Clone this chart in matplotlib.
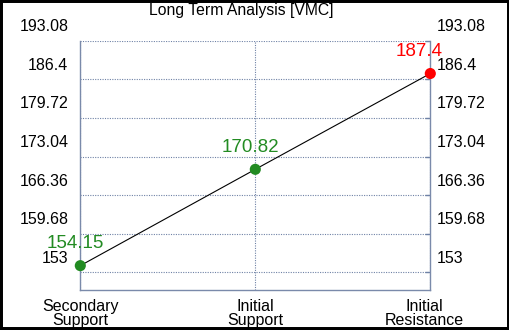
import matplotlib
matplotlib.use("Agg")
import matplotlib.pyplot as plt
from matplotlib.patches import Rectangle
from matplotlib.transforms import ScaledTranslation

plt.rcParams['font.family'] = ['Liberation Sans', 'DejaVu Sans']

# data
categories = ["Secondary\nSupport", "Initial\nSupport", "Initial\nResistance"]
levels = [154.15, 170.82, 187.4]
point_colors = ["#228b22", "#228b22", "#ff0000"]
ytick_values = [153, 159.68, 166.36, 173.04, 179.72, 186.4, 193.08]
title = "Long Term Analysis [VMC]"

fig = plt.figure(figsize=(5.1, 3.3), dpi=100)
ax = fig.add_axes([80.3 / 510, 39.7 / 330, 350 / 510, 249.6 / 330])

x = list(range(len(categories)))
ax.plot(x, levels, color="black", linewidth=0.8, zorder=3, clip_on=False)
ax.scatter(x, levels, s=64, c=point_colors, zorder=4, linewidths=0, clip_on=False)

# value labels above the points (offsets in pixels)
label_dx = [-5, -5, -11]
for xi, v, c, dx in zip(x, levels, point_colors, label_dx):
    ax.annotate(f"{v:g}", xy=(xi, v), xytext=(dx, 22), textcoords="offset pixels",
                ha="center", va="center", color=c, fontsize=13.5, zorder=5)

ax.set_xlim(0, 2)
ax.set_ylim(149.885, 193.08)

grid_col = "#6f82a6"
ax.set_yticks(ytick_values)
ax.set_yticklabels([])
ax.set_xticks(x)
ax.set_xticklabels(categories, fontsize=11.5, linespacing=0.95)
ax.tick_params(axis="x", length=0, pad=6)
ax.tick_params(axis="y", left=False, right=True, direction="in", length=3.6,
               color=grid_col, width=1)
ax.grid(True, color=grid_col, linestyle=(0, (1, 1.2)), linewidth=0.8)

for side in ["left", "right", "bottom"]:
    ax.spines[side].set_color("#7a8aaa")
    ax.spines[side].set_linewidth(1)
ax.spines["top"].set_visible(False)

# y tick labels sit above their grid lines on both sides
for v in ytick_values:
    ax.annotate(f"{v:g}", xy=(0, v), xycoords=("axes fraction", "data"),
                xytext=(-12, 14), textcoords="offset pixels",
                ha="right", va="center", fontsize=11.5)
    ax.annotate(f"{v:g}", xy=(1, v), xycoords=("axes fraction", "data"),
                xytext=(6.5, 14), textcoords="offset pixels",
                ha="left", va="center", fontsize=11.5)

lbls = ax.get_xticklabels()
lbls[-1].set_transform(lbls[-1].get_transform() +
                       ScaledTranslation(-0.055, 0, fig.dpi_scale_trans))

fig.text(241 / 510, 1 - 10 / 330, title, ha="center", va="center", fontsize=11.3)

fig.patches.append(Rectangle((0, 0), 1, 1, transform=fig.transFigure, fill=False,
                             edgecolor="black", linewidth=4.3, zorder=10))

fig.savefig("out.png", dpi=100)
